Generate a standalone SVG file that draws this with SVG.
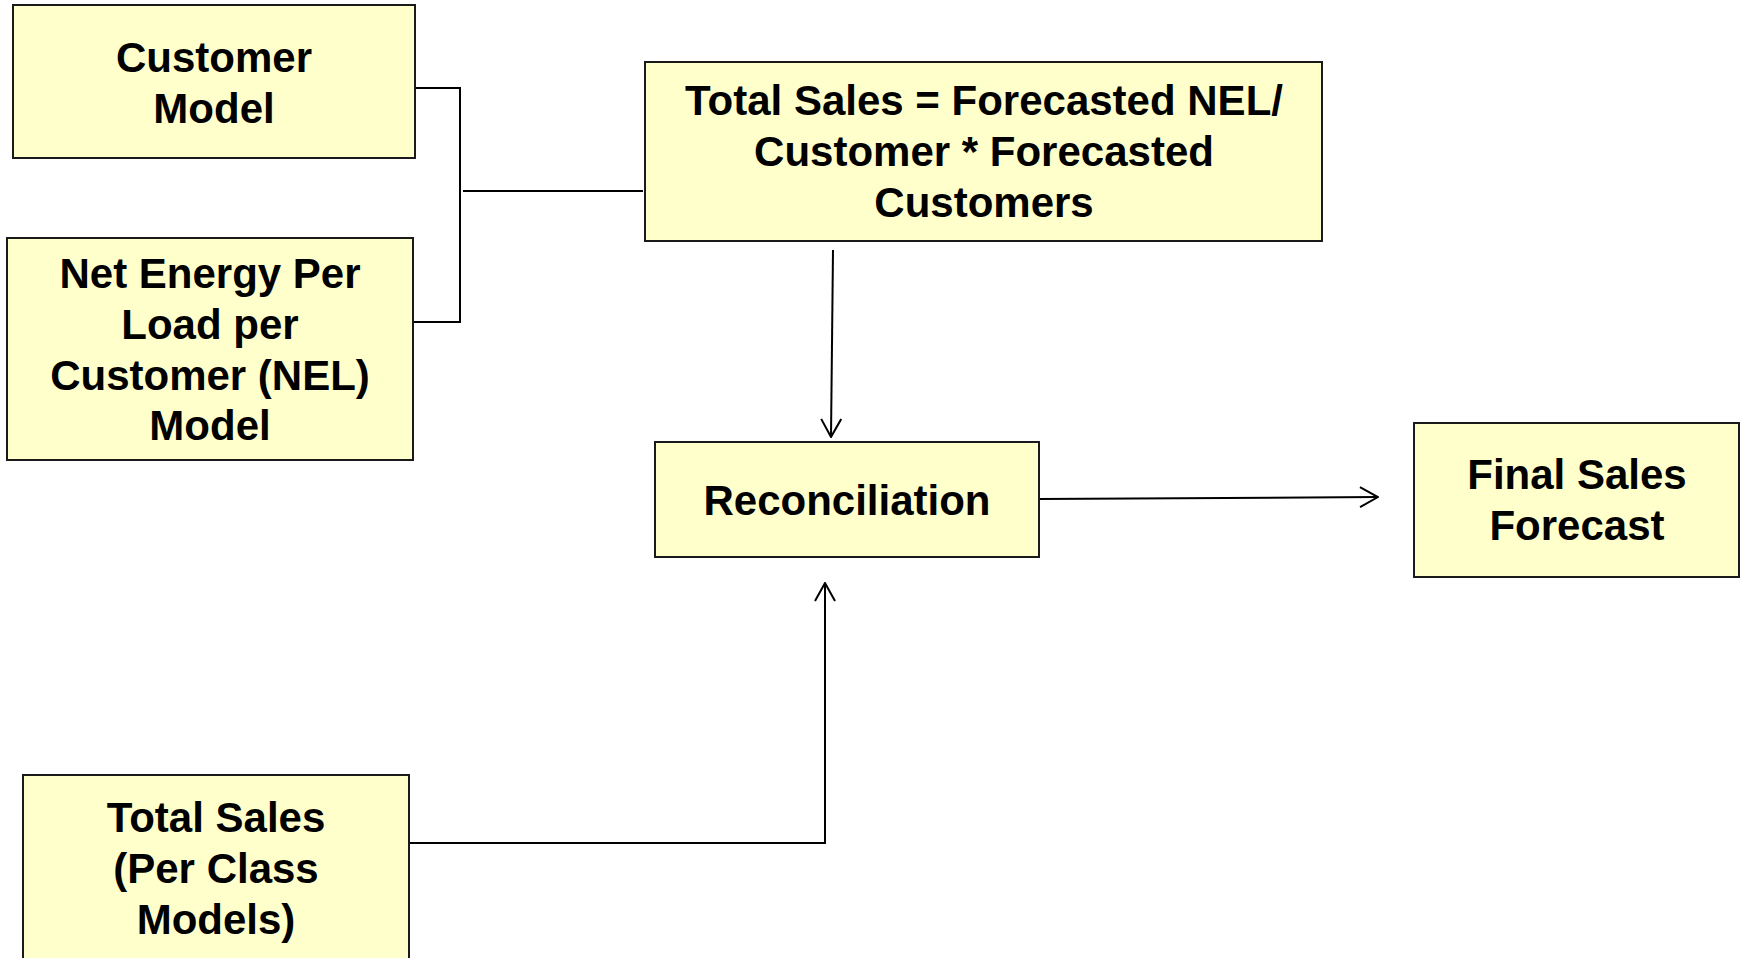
<svg xmlns="http://www.w3.org/2000/svg" width="1741" height="958" viewBox="0 0 1741 958">
<style>
.box{fill:#FFFFCC;stroke:#1a1a1a;stroke-width:2}
.t{font-family:"Liberation Sans",Arial,sans-serif;font-weight:bold;font-size:42px;fill:#000;text-anchor:middle}
.c{fill:none;stroke:#000;stroke-width:2}
</style>
<defs>
<marker id="arr" viewBox="0 0 20 22" refX="19" refY="11" markerWidth="20" markerHeight="22" markerUnits="userSpaceOnUse" orient="auto">
<path d="M1,1 L19,11 L1,21" fill="none" stroke="#000" stroke-width="2"/>
</marker>
</defs>
<rect width="1741" height="958" fill="#fff"/>
<g id="connectors">
<polyline class="c" points="414,88 460,88 460,322 413,322"/>
<line class="c" x1="463" y1="191" x2="643" y2="191"/>
<line class="c" x1="833" y1="250" x2="831" y2="437" marker-end="url(#arr)"/>
<line class="c" x1="1039" y1="499" x2="1378" y2="497" marker-end="url(#arr)"/>
<polyline class="c" points="410,843 825,843 825,583" marker-end="url(#arr)"/>
</g>
<g id="customer-model">
<rect class="box" x="13" y="5" width="402" height="153"/>
<text class="t" x="214" y="72">Customer</text>
<text class="t" x="214" y="123">Model</text>
</g>
<g id="nel-model">
<rect class="box" x="7" y="238" width="406" height="222"/>
<text class="t" x="210" y="288">Net Energy Per</text>
<text class="t" x="210" y="339">Load per</text>
<text class="t" x="210" y="390">Customer (NEL)</text>
<text class="t" x="210" y="440">Model</text>
</g>
<g id="total-sales-formula">
<rect class="box" x="645" y="62" width="677" height="179"/>
<text class="t" x="984" y="115">Total Sales = Forecasted NEL/</text>
<text class="t" x="984" y="166">Customer * Forecasted</text>
<text class="t" x="984" y="217">Customers</text>
</g>
<g id="reconciliation">
<rect class="box" x="655" y="442" width="384" height="115"/>
<text class="t" x="847" y="515">Reconciliation</text>
</g>
<g id="final-sales-forecast">
<rect class="box" x="1414" y="423" width="325" height="154"/>
<text class="t" x="1577" y="489">Final Sales</text>
<text class="t" x="1577" y="540">Forecast</text>
</g>
<g id="total-sales-per-class">
<rect class="box" x="23" y="775" width="386" height="200"/>
<text class="t" x="216" y="832">Total Sales</text>
<text class="t" x="216" y="883">(Per Class</text>
<text class="t" x="216" y="934">Models)</text>
</g>
</svg>
